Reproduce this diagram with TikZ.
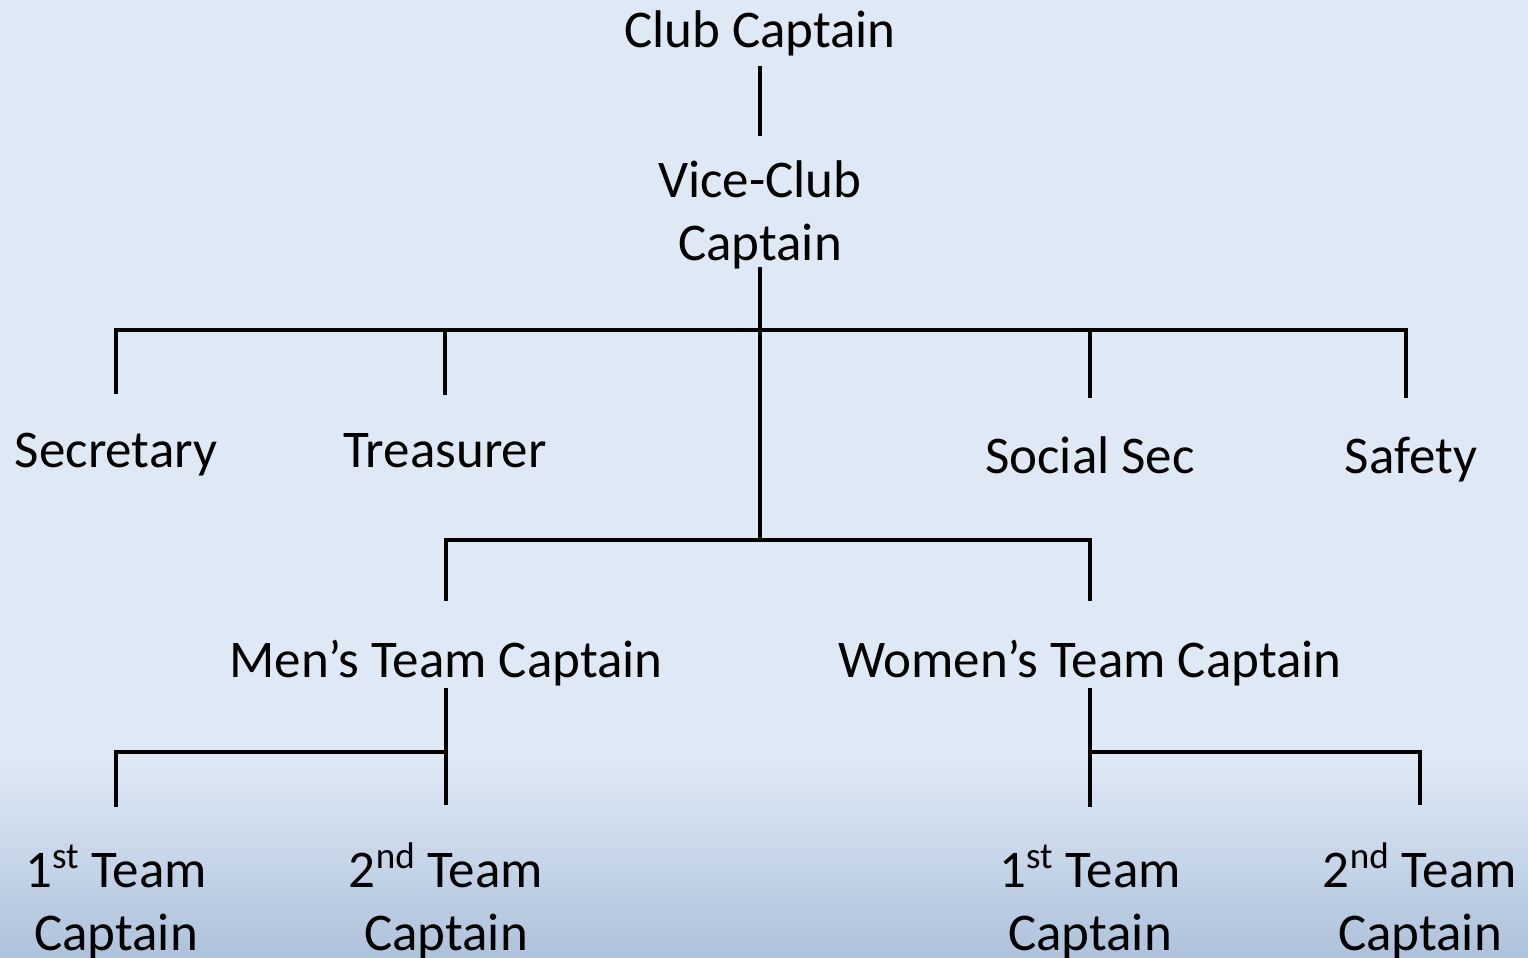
\documentclass[tikz,border=0pt]{standalone}
\usepackage{fontspec}
\setmainfont{Carlito}
\usetikzlibrary{calc}

\definecolor{bgtop}{HTML}{DFE9F5}
\definecolor{bgbottom}{HTML}{AEC2DB}

\tikzset{
    role/.style={font=\fontsize{26.5}{31.5}\selectfont, align=center, inner sep=0pt, anchor=base},
    link/.style={line width=2pt, line cap=rect},
    drop/.style={link, shorten >=20pt}
}

\begin{document}
\begin{tikzpicture}[x=0.5pt, y=-0.5pt]

    % background
    \fill[bgtop] (0,0) rectangle (1528,958);
    \shade[top color=bgtop, bottom color=bgbottom] (0,760) rectangle (1528,958);
    \useasboundingbox (0,0) rectangle (1528,958);

    % top of the tree
    \node[role] (club) at (760,47) {Club Captain};
    \node[role] (vice) at (760,260) {Vice-Club\\Captain};

    \draw[link, shorten <=6pt, shorten >=13pt]
        (club) --
        (vice);

    % officers
    \coordinate (bar-off) at (760,330);
    \coordinate (bar-team) at (760,540);

    \node[role] (secretary) at (116,467) {Secretary};
    \node[role] (treasurer) at (445,467) {Treasurer};
    \node[role] (social) at (1090,473) {Social Sec};
    \node[role] (safety) at (1411,473) {Safety};

    \draw[link]
        (vice.south) --
        (bar-team);

    \draw[drop] (bar-off) -| (secretary);
    \draw[drop] (bar-off) -| (treasurer);
    \draw[drop] (bar-off) -| (social);
    \draw[drop] ($(bar-off)$) -| ([xshift=-2.5pt]safety.north);

    % team captains
    \node[role] (mens) at (446,677) {Men’s Team Captain};
    \node[role] (womens) at (1090,677) {Women’s Team Captain};

    \draw[drop] (bar-team) -| (mens);
    \draw[drop] (bar-team) -| (womens);

    % men's teams
    \coordinate (bar-men) at (446,752);
    \node[role] (men-first) at (116,950) {1\textsuperscript{st} Team\\Captain};
    \node[role] (men-second) at (446,950) {2\textsuperscript{nd} Team\\Captain};

    \draw[drop, shorten <=2pt]
        (mens) --
        (men-second);
    \draw[drop] (bar-men) -| (men-first);

    % women's teams
    \coordinate (bar-women) at (1090,752);
    \node[role] (women-first) at (1090,950) {1\textsuperscript{st} Team\\Captain};
    \node[role] (women-second) at (1420,950) {2\textsuperscript{nd} Team\\Captain};

    \draw[drop, shorten <=2pt]
        (womens) --
        (women-first);
    \draw[drop] (bar-women) -| (women-second);

\end{tikzpicture}
\end{document}
